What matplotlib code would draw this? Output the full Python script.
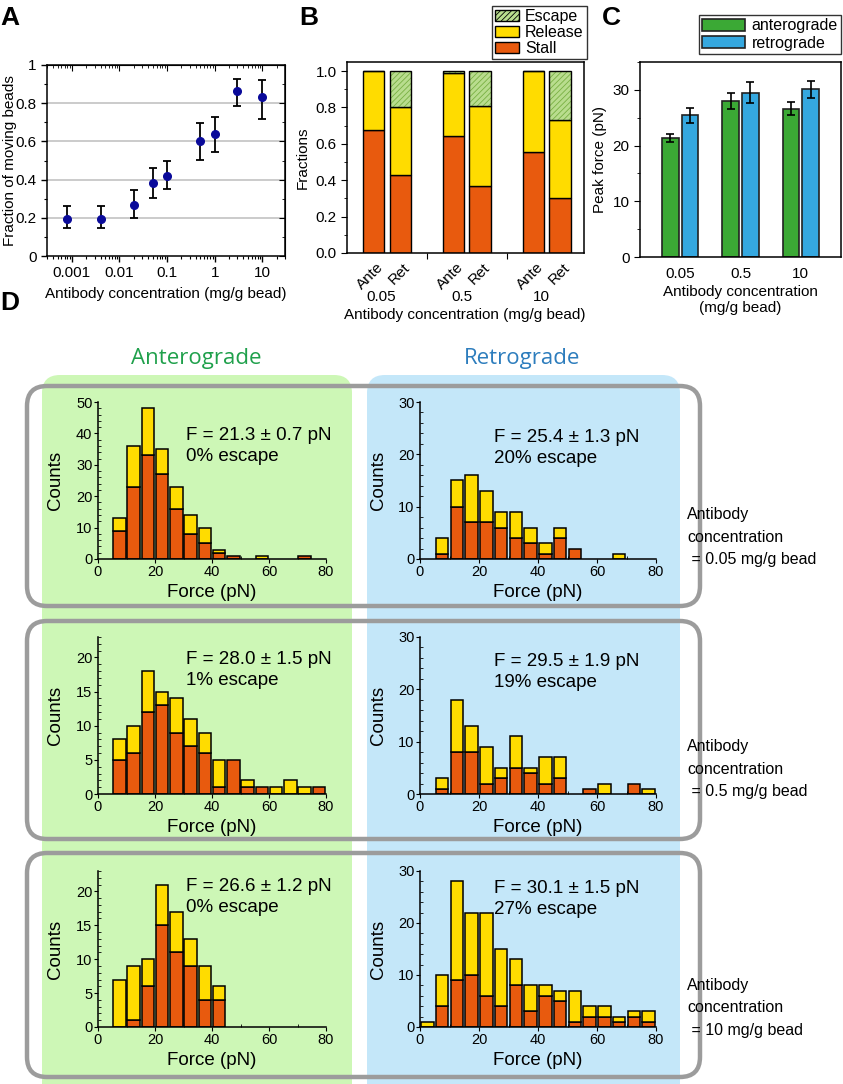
import numpy as np
import matplotlib
matplotlib.use('Agg')
import matplotlib.pyplot as plt
from matplotlib.patches import FancyBboxPatch, Patch
from matplotlib.ticker import MultipleLocator, FixedLocator, LogLocator, NullFormatter, FixedFormatter

W, H = 843, 1084
DPI = 100
plt.rcParams['font.family'] = ['Liberation Sans', 'DejaVu Sans']
plt.rcParams['hatch.linewidth'] = 0.6

# ---------------- data ----------------
# Panel A
conc_a = [0.0008, 0.004, 0.02, 0.05, 0.1, 0.5, 1, 3, 10]
frac_moving = [0.195, 0.195, 0.265, 0.38, 0.42, 0.60, 0.64, 0.865, 0.835]
frac_lo = [0.145, 0.145, 0.20, 0.305, 0.35, 0.505, 0.545, 0.785, 0.715]
frac_hi = [0.26, 0.26, 0.345, 0.46, 0.495, 0.695, 0.73, 0.925, 0.92]

# Panel B
b_groups = ['0.05', '0.5', '10']
b_bar_labels = ['Ante', 'Ret', 'Ante', 'Ret', 'Ante', 'Ret']
b_stall = [0.675, 0.43, 0.645, 0.37, 0.555, 0.30]
b_release = [0.325, 0.37, 0.345, 0.44, 0.445, 0.43]
b_escape = [0.0, 0.20, 0.01, 0.19, 0.0, 0.27]

# Panel C
c_groups = ['0.05', '0.5', '10']
c_ante = [21.3, 28.0, 26.6]
c_ante_err = [0.7, 1.5, 1.2]
c_retro = [25.4, 29.5, 30.1]
c_retro_err = [1.3, 1.9, 1.5]

# Panel D histograms (5 pN bins, centres 2.5 ... 77.5)
bin_centers = [2.5, 7.5, 12.5, 17.5, 22.5, 27.5, 32.5, 37.5,
               42.5, 47.5, 52.5, 57.5, 62.5, 67.5, 72.5, 77.5]
ante_005_total = [0, 13, 36, 48, 35, 23, 14, 10, 3, 1, 0, 1, 0, 0, 1, 0]
ante_005_stall = [0, 9, 23, 33, 27, 16, 8, 5, 2, 1, 0, 0, 0, 0, 1, 0]
retro_005_total = [0, 4, 15, 16, 13, 9, 9, 6, 3, 6, 2, 0, 0, 1, 0, 0]
retro_005_stall = [0, 1, 10, 7, 7, 6, 4, 3, 1, 4, 2, 0, 0, 0, 0, 0]
ante_05_total = [0, 8, 10, 18, 15, 14, 11, 9, 5, 5, 2, 1, 1, 2, 1, 1]
ante_05_stall = [0, 5, 6, 12, 13, 9, 7, 6, 1, 5, 1, 1, 0, 0, 0, 1]
retro_05_total = [0, 3, 18, 13, 9, 5, 11, 5, 7, 7, 0, 1, 2, 0, 2, 1]
retro_05_stall = [0, 1, 8, 8, 2, 3, 5, 4, 2, 3, 0, 1, 0, 0, 2, 0]
ante_10_total = [0, 7, 9, 10, 21, 17, 13, 9, 6, 0, 0, 0, 0, 0, 0, 0]
ante_10_stall = [0, 0, 1, 6, 15, 11, 9, 4, 4, 0, 0, 0, 0, 0, 0, 0]
retro_10_total = [1, 10, 28, 22, 22, 15, 13, 8, 8, 7, 7, 4, 4, 2, 3, 3]
retro_10_stall = [0, 4, 9, 10, 6, 4, 8, 3, 6, 5, 1, 2, 2, 1, 2, 1]

ante_labels = ['F = 21.3 ± 0.7 pN\n0% escape', 'F = 28.0 ± 1.5 pN\n1% escape',
               'F = 26.6 ± 1.2 pN\n0% escape']
retro_labels = ['F = 25.4 ± 1.3 pN\n20% escape', 'F = 29.5 ± 1.9 pN\n19% escape',
                'F = 30.1 ± 1.5 pN\n27% escape']
row_conc = ['0.05', '0.5', '10']

ORANGE = '#E85A0E'
YELLOW = '#FFDC00'
ESC = '#B9DD8E'
ESC_H = '#79B043'
GREEN_BG = '#CDF7B6'
BLUE_BG = '#C4E7F9'
FRAME = '#9C9C9C'
C_GREEN = '#3BA935'
C_BLUE = '#35A8E0'
FS = 11

fig = plt.figure(figsize=(W / DPI, H / DPI), dpi=DPI)


def add_ax(l, t, r, b, **kw):
    return fig.add_axes([l / W, 1 - b / H, (r - l) / W, (b - t) / H], **kw)


def ftext(x, y, s, **kw):
    return fig.text(x / W, 1 - y / H, s, **kw)


# ---------- background (panel D decorations) ----------
bg = add_ax(0, 0, W, H, zorder=0)
bg.set_xlim(0, W)
bg.set_ylim(H, 0)
bg.axis('off')
bg.add_patch(FancyBboxPatch((42, 375), 310, 740, boxstyle='round,pad=0,rounding_size=18',
                            fc=GREEN_BG, ec='none'))
bg.add_patch(FancyBboxPatch((367, 375), 313, 740, boxstyle='round,pad=0,rounding_size=18',
                            fc=BLUE_BG, ec='none'))
for (t, b) in [(386, 606), (621, 839), (853, 1077)]:
    bg.add_patch(FancyBboxPatch((27, t), 673, b - t, boxstyle='round,pad=0,rounding_size=20',
                                fc='none', ec=FRAME, lw=3.2))

# ---------- Panel A ----------
axA = add_ax(47, 65, 285, 256)
axA.set_xscale('log')
axA.set_xlim(3e-4, 30)
axA.set_ylim(0, 1)
axA.yaxis.set_major_locator(FixedLocator([0, 0.2, 0.4, 0.6, 0.8, 1.0]))
axA.yaxis.set_major_formatter(FixedFormatter(['0', '0.2', '0.4', '0.6', '0.8', '1']))
axA.yaxis.set_minor_locator(MultipleLocator(0.1))
axA.xaxis.set_major_locator(FixedLocator([0.001, 0.01, 0.1, 1, 10]))
axA.xaxis.set_major_formatter(FixedFormatter(['0.001', '0.01', '0.1', '1', '10']))
axA.xaxis.set_minor_locator(LogLocator(base=10, subs=np.arange(2, 10), numticks=20))
axA.xaxis.set_minor_formatter(NullFormatter())
for y in [0.2, 0.4, 0.6, 0.8]:
    axA.axhline(y, color='#BDBDBD', lw=1.1, zorder=0)
err = [np.array(frac_moving) - np.array(frac_lo), np.array(frac_hi) - np.array(frac_moving)]
axA.errorbar(conc_a, frac_moving, yerr=err, fmt='o', color='#0A0A9A', ms=5.5,
             ecolor='black', elinewidth=1.3, capsize=3, capthick=1.3, zorder=3)
axA.tick_params(which='major', direction='out', length=4, labelsize=FS, width=1)
axA.tick_params(which='minor', direction='out', length=2, width=0.8)
secx = axA.secondary_xaxis('top')
secx.xaxis.set_major_locator(FixedLocator([0.001, 0.01, 0.1, 1, 10]))
secx.xaxis.set_minor_locator(LogLocator(base=10, subs=np.arange(2, 10), numticks=20))
secx.tick_params(which='both', direction='in', labeltop=False)
secx.tick_params(which='major', length=4)
secx.tick_params(which='minor', length=2)
secy = axA.secondary_yaxis('right')
secy.yaxis.set_major_locator(FixedLocator([0, 0.2, 0.4, 0.6, 0.8, 1.0]))
secy.yaxis.set_minor_locator(MultipleLocator(0.1))
secy.tick_params(which='both', direction='in', labelright=False)
secy.tick_params(which='major', length=4)
secy.tick_params(which='minor', length=2)
for s in axA.spines.values():
    s.set_linewidth(1.1)
axA.set_xlabel('Antibody concentration (mg/g bead)', fontsize=FS, labelpad=5)
axA.set_ylabel('Fraction of moving beads', fontsize=FS)
axA.yaxis.set_label_coords(-0.125, 0.5)
ftext(0, 25, 'A', fontsize=19, fontweight='bold', ha='left', va='baseline')

# ---------- Panel B ----------
axB = add_ax(347, 62, 584, 253)
bx = np.array([0, 1, 3, 4, 6, 7])
bw = 0.8
stall = np.array(b_stall)
rel = np.array(b_release)
esc = np.array(b_escape)
axB.bar(bx, stall, bw, color=ORANGE, edgecolor='black', lw=1)
axB.bar(bx, rel, bw, bottom=stall, color=YELLOW, edgecolor='black', lw=1)
axB.bar(bx, esc, bw, bottom=stall + rel, color=ESC, edgecolor=ESC_H, hatch='//////', lw=0)
axB.bar(bx, esc, bw, bottom=stall + rel, color='none', edgecolor='black', lw=1)
axB.set_xlim(-1, 7.9)
axB.set_ylim(0, 1.05)
axB.yaxis.set_major_locator(MultipleLocator(0.2))
axB.yaxis.set_minor_locator(MultipleLocator(0.1))
axB.yaxis.set_major_formatter(matplotlib.ticker.FormatStrFormatter('%.1f'))
axB.set_xticks([2, 5])
axB.set_xticklabels([])
axB.tick_params(which='major', direction='out', length=4, labelsize=FS)
axB.tick_params(which='minor', direction='out', length=2)
for s in axB.spines.values():
    s.set_linewidth(1.1)
axB.set_ylabel('Fractions', fontsize=FS, labelpad=4)
for x, lab in zip(bx, b_bar_labels):
    axB.annotate(lab, xy=(x, 0), xycoords='data', xytext=(2, -5), textcoords='offset points',
                 rotation=45, ha='right', va='top', rotation_mode='anchor', fontsize=FS)
for g, lab in enumerate(b_groups):
    axB.annotate(lab, xy=(3 * g + 0.3, 0), xycoords='data', xytext=(0, -32),
                 textcoords='offset points', ha='center', va='center', fontsize=FS)
ftext(465, 315, 'Antibody concentration (mg/g bead)', fontsize=FS, ha='center', va='center')
ftext(299, 25, 'B', fontsize=19, fontweight='bold', ha='left', va='baseline')
legB = fig.legend(handles=[Patch(fc=ESC, ec='black', hatch='//////', lw=1),
                           Patch(fc=YELLOW, ec='black', lw=1),
                           Patch(fc=ORANGE, ec='black', lw=1)],
                  labels=['Escape', 'Release', 'Stall'],
                  loc='upper right', bbox_to_anchor=(587 / W, 1 - 6 / H),
                  fontsize=11.5, frameon=True, fancybox=False, edgecolor='black',
                  handlelength=1.5, handleheight=0.7, handletextpad=0.4,
                  labelspacing=0.05, borderpad=0.2, borderaxespad=0)
legB.get_frame().set_linewidth(1)

# ---------- Panel C ----------
axC = add_ax(640, 62, 841, 257)
cx = np.arange(len(c_groups))
cw = 0.27
axC.bar(cx - 0.165, c_ante, cw, color=C_GREEN, edgecolor='#222222', lw=1.2,
        yerr=c_ante_err, capsize=3, error_kw=dict(elinewidth=1.2, capthick=1.2))
axC.bar(cx + 0.165, c_retro, cw, color=C_BLUE, edgecolor='#222222', lw=1.2,
        yerr=c_retro_err, capsize=3, error_kw=dict(elinewidth=1.2, capthick=1.2))
axC.set_xlim(-0.67, 2.67)
axC.set_ylim(0, 35)
axC.yaxis.set_major_locator(MultipleLocator(10))
axC.yaxis.set_minor_locator(MultipleLocator(5))
axC.set_xticks(cx)
axC.set_xticklabels(c_groups)
axC.tick_params(axis='x', length=0, pad=7, labelsize=FS)
axC.tick_params(axis='y', which='major', direction='out', length=4, labelsize=FS)
axC.tick_params(axis='y', which='minor', direction='out', length=2)
for s in axC.spines.values():
    s.set_linewidth(1.1)
axC.set_ylabel('Peak force (pN)', fontsize=FS, labelpad=4)
axC.set_xlabel('Antibody concentration\n(mg/g bead)', fontsize=FS, labelpad=3)
ftext(602, 25, 'C', fontsize=19, fontweight='bold', ha='left', va='baseline')
legC = fig.legend(handles=[Patch(fc=C_GREEN, ec='#222222', lw=1.2),
                           Patch(fc=C_BLUE, ec='#222222', lw=1.2)],
                  labels=['anterograde', 'retrograde'],
                  loc='upper right', bbox_to_anchor=(841 / W, 1 - 15 / H),
                  fontsize=11.5, frameon=True, fancybox=False, edgecolor='black',
                  handlelength=2.7, handleheight=0.8, handletextpad=0.4,
                  labelspacing=0.15, borderpad=0.2, borderaxespad=0)
legC.get_frame().set_linewidth(1)

# ---------- Panel D ----------
ftext(0, 310, 'D', fontsize=19, fontweight='bold', ha='left', va='baseline')
ftext(196, 358, 'Anterograde', fontsize=16, color='#1FA04B', ha='center', va='center',
      family=['Open Sans', 'DejaVu Sans'])
ftext(522, 358, 'Retrograde', fontsize=16, color='#2D7DBD', ha='center', va='center',
      family=['Open Sans', 'DejaVu Sans'])

rows = [(402, 559), (637, 794), (871, 1027)]
ante_data = [(ante_005_total, ante_005_stall, 50, 10, 2),
             (ante_05_total, ante_05_stall, 23, 5, 1),
             (ante_10_total, ante_10_stall, 23, 5, 1)]
retro_data = [(retro_005_total, retro_005_stall, 30, 10, 2),
              (retro_05_total, retro_05_stall, 30, 10, 2),
              (retro_10_total, retro_10_stall, 30, 10, 2)]


def hist(ax, total, stall_c, ymax, ymaj, ymin, lab_x):
    total = np.array(total)
    st = np.array(stall_c)
    rl = total - st
    xc = np.array(bin_centers)
    m = st > 0
    ax.bar(xc[m], st[m], 4.3, color=ORANGE, edgecolor='black', lw=1.1, zorder=2)
    m2 = rl > 0
    ax.bar(xc[m2], rl[m2], 4.3, bottom=st[m2], color=YELLOW, edgecolor='black', lw=1.1, zorder=2)
    ax.set_xlim(0, 80)
    ax.set_ylim(0, ymax)
    ax.patch.set_alpha(0)
    ax.spines['top'].set_visible(False)
    ax.spines['right'].set_visible(False)
    ax.spines['left'].set_linewidth(1.1)
    ax.spines['bottom'].set_linewidth(1.1)
    ax.xaxis.set_major_locator(MultipleLocator(20))
    ax.xaxis.set_minor_locator(MultipleLocator(10))
    ax.yaxis.set_major_locator(MultipleLocator(ymaj))
    ax.yaxis.set_minor_locator(MultipleLocator(ymin))
    ax.tick_params(which='major', direction='out', length=3, labelsize=10.5, pad=1)
    ax.tick_params(which='minor', direction='in', length=2)
    ax.set_xlabel('Force (pN)', fontsize=13.5, labelpad=4)
    ax.set_ylabel('Counts', fontsize=13.5)
    ax.yaxis.set_label_coords(lab_x, 0.5)


for i, (t, b) in enumerate(rows):
    axa = add_ax(98, t, 326, b, zorder=2)
    tot, st, ymax, ymaj, ymin = ante_data[i]
    hist(axa, tot, st, ymax, ymaj, ymin, -0.15)
    axr = add_ax(420, t, 656, b, zorder=2)
    tot, st, ymax, ymaj, ymin = retro_data[i]
    hist(axr, tot, st, ymax, ymaj, ymin, -0.138)

ann_y = [446, 670, 897]
for i in range(3):
    ftext(186, ann_y[i], ante_labels[i], fontsize=13.5, ha='left', va='center', linespacing=1.3)
    ftext(494, ann_y[i] + 2, retro_labels[i], fontsize=13.5, ha='left', va='center', linespacing=1.3)

conc_y = [537, 769, 1008]
for i in range(3):
    ftext(687, conc_y[i], 'Antibody\nconcentration\n = %s mg/g bead' % row_conc[i],
          fontsize=11.5, ha='left', va='center', linespacing=1.6)

fig.savefig('out.png', dpi=DPI)
